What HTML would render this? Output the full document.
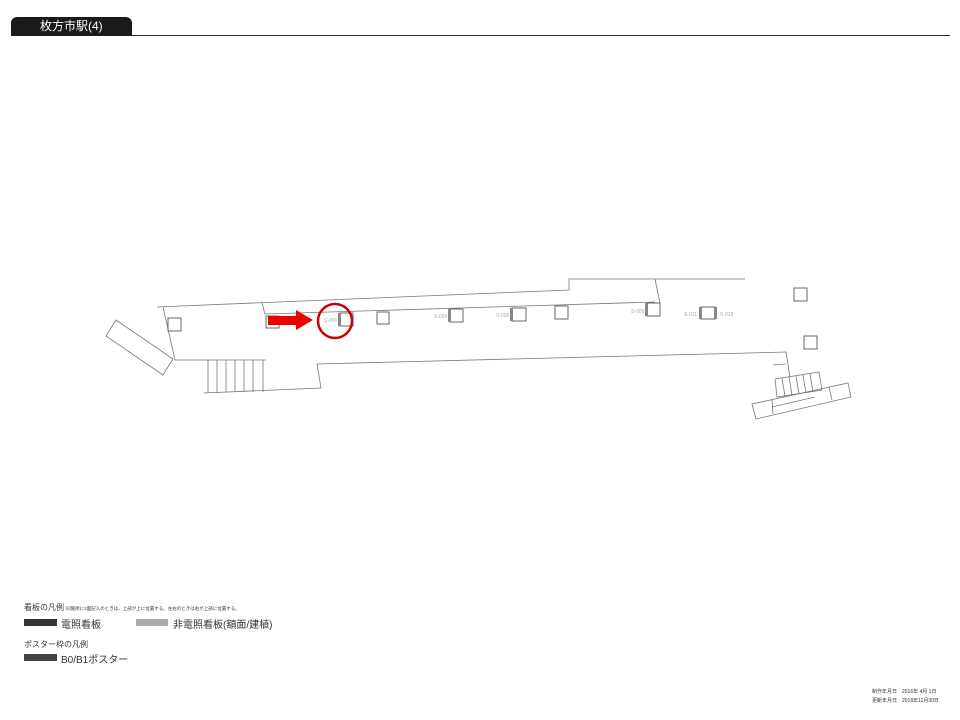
<!DOCTYPE html>
<html><head><meta charset="utf-8"><style>
body{margin:0;width:960px;height:720px;background:#fff;position:relative;overflow:hidden;font-family:"Liberation Sans","Noto Sans CJK JP",sans-serif;}
.t{position:absolute;white-space:nowrap;color:#333}
</style></head><body>
<div style="position:absolute;left:11px;top:17px;width:121px;height:19px;background:#1a1a1a;border-radius:6px 6px 0 0"></div>
<div class="t" style="left:40px;top:18px;font-size:12px;color:#fff;line-height:17px">枚方市駅(4)</div>
<div style="position:absolute;left:132px;top:35px;width:818px;height:1px;background:#333"></div>
<svg width="960" height="720" style="position:absolute;left:0;top:0" fill="none" stroke="#777" stroke-width="0.8">
<polyline points="157,307 569,290 569,279 745,279"/>
<polyline points="262,303 265,314 655,302"/>
<polyline points="655,279 660,303"/>
<polyline points="163,307 175,360 266,360"/>
<polyline points="204,393 321,388 317,364 786,352 790,377"/>
<line x1="773" y1="365" x2="786" y2="364"/>
<g>
<line x1="208" y1="360" x2="208" y2="393"/><line x1="217" y1="360" x2="217" y2="393"/><line x1="226" y1="360" x2="226" y2="392"/><line x1="235" y1="360" x2="235" y2="392"/><line x1="244" y1="360" x2="244" y2="392"/><line x1="253" y1="360" x2="253" y2="392"/><line x1="263" y1="360" x2="263" y2="392"/>
</g>
<polygon points="106,336 116,320 173,359 163,375"/>
<polyline points="775,379 819,372 822,390 777,397 775,379"/>
<line x1="782" y1="378" x2="785" y2="396"/><line x1="789" y1="377" x2="792" y2="395"/><line x1="796" y1="376" x2="799" y2="394"/><line x1="803" y1="375" x2="806" y2="393"/><line x1="810" y1="374" x2="813" y2="392"/>
<polygon points="752,404 848,383 851,397 756,419"/>
<line x1="772" y1="400" x2="773" y2="414"/><line x1="829" y1="387" x2="832" y2="400"/><line x1="772" y1="407" x2="815" y2="397"/>
<g stroke="#666" stroke-width="1">
<rect x="168" y="318" width="13" height="13"/><rect x="266" y="316" width="13" height="12"/>
<rect x="340" y="313" width="13" height="13"/><rect x="377" y="312" width="12" height="12"/>
<rect x="450" y="309" width="13" height="13"/><rect x="512" y="308" width="14" height="13"/>
<rect x="555" y="306" width="13" height="13"/><rect x="647" y="303" width="13" height="13"/>
<rect x="701" y="307" width="14" height="12"/><rect x="794" y="288" width="13" height="13"/>
<rect x="804" y="336" width="13" height="13"/>
</g>
<g fill="#888" stroke="none">
<rect x="338" y="313" width="3" height="13"/><rect x="448" y="309" width="3" height="13"/><rect x="510" y="308" width="3" height="13"/><rect x="645" y="303" width="3" height="13"/><rect x="699" y="307" width="3" height="12"/><rect x="714" y="307" width="3" height="12"/>
</g>
<g fill="#aaa" stroke="none" font-size="5" font-family="Liberation Sans,sans-serif">
<text x="324" y="322">S-001</text><text x="434" y="318">S-004</text><text x="496" y="317">S-006</text><text x="631" y="313">S-009</text><text x="684" y="316">S-011</text><text x="720" y="316">S-012</text>
</g>
<circle cx="335" cy="321" r="17" stroke="#c00" stroke-width="2.5"/>
<polygon points="268,316 296,316 296,310 313,320 296,330 296,325 268,325" fill="#e00" stroke="none"/>
</svg>
<div class="t" style="left:24px;top:602px;font-size:8px">看板の凡例 <span style="font-size:4.5px">同箇所に2面記入のときは、上部が上に位置する。左右のときは右が上部に位置する。</span></div>
<div style="position:absolute;left:24px;top:619px;width:33px;height:7px;background:#333"></div>
<div class="t" style="left:61px;top:616px;font-size:10px">電照看板</div>
<div style="position:absolute;left:136px;top:619px;width:32px;height:7px;background:#aaa"></div>
<div class="t" style="left:173px;top:616px;font-size:10px">非電照看板(額面/建植)</div>
<div class="t" style="left:24px;top:639px;font-size:8px">ポスター枠の凡例</div>
<div style="position:absolute;left:24px;top:654px;width:33px;height:7px;background:#444"></div>
<div class="t" style="left:61px;top:651px;font-size:10px">B0/B1ポスター</div>
<div class="t" style="left:872px;top:688px;font-size:5px">制作年月日　2016年 4月 1日</div>
<div class="t" style="left:872px;top:697px;font-size:5px">更新年月日　2018年11月30日</div>
</body></html>
